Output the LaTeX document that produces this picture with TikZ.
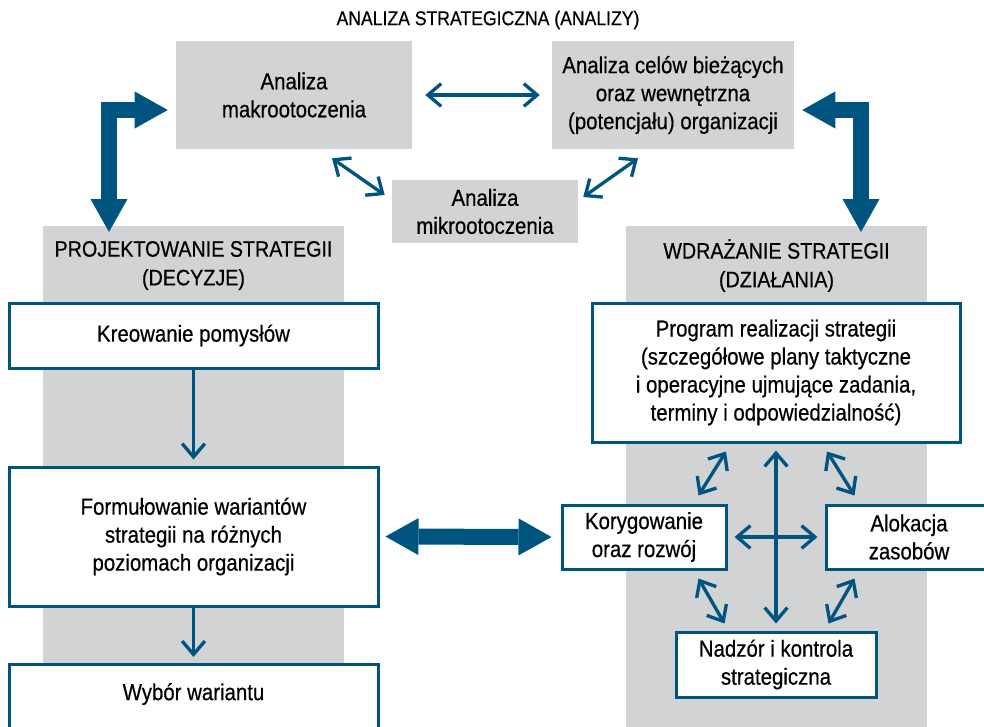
\documentclass[tikz,border=0pt]{standalone}
\usepackage{fontspec}
\setmainfont{Liberation Sans}[FakeStretch=0.88,FakeBold=0.5]
\usetikzlibrary{arrows.meta}

\definecolor{sblue}{RGB}{0,84,128}
\definecolor{sgray}{RGB}{209,211,212}
\newcommand\pxl{0.75pt}

\tikzset{
  bodytext/.style={font=\fontsize{17.4}{21}\selectfont, align=center, text=black},
  headtext/.style={font=\fontsize{16.8}{21.5}\selectfont, align=center, text=black},
  graybox/.style={fill=sgray, draw=none, inner sep=0pt, bodytext},
  graycol/.style={fill=sgray, draw=none, inner sep=0pt, anchor=north west},
  wbox/.style={fill=white, draw=sblue, line width=2.25pt, inner sep=0pt, bodytext},
  barb/.tip={Straight Barb[length=10pt,width=17pt,line width=2.5pt]},
  thinarrow/.style={draw=sblue, line width=2.5pt, barb-barb},
  downarrow/.style={draw=sblue, line width=2.5pt, -barb},
  bigtip/.tip={Triangle[length=24.75pt,width=27.75pt,line width=0pt]},
  bigarrow/.style={draw=sblue, line width=12pt, line join=miter, bigtip-bigtip},
}

\begin{document}
\begin{tikzpicture}[x=0.75pt, y=-0.75pt]
\useasboundingbox (0,0) rectangle (984,726);
\clip (0,0) rectangle (984,726);

% title
\node[font=\fontsize{15}{18}\selectfont] (title) at (488,20) {ANALIZA STRATEGICZNA (ANALIZY)};

% analysis boxes
\node[graybox, minimum width=236*\pxl, minimum height=108*\pxl] (makro) at (294,95)
  {Analiza\\makrootoczenia};
\node[graybox, minimum width=242*\pxl, minimum height=108*\pxl] (cel) at (673,95)
  {Analiza celów bieżących\\oraz wewnętrzna\\(potencjału) organizacji};
\node[graybox, minimum width=186*\pxl, minimum height=63*\pxl] (mikro) at (485,211.5)
  {Analiza\\mikrootoczenia};

% gray columns
\node[graycol, minimum width=301*\pxl, minimum height=520*\pxl] (projcol) at (43,226) {};
\node[graycol, minimum width=301*\pxl, minimum height=520*\pxl] (realcol) at (626,226) {};
\node[headtext] (projhead) at (193.5,265.5) {PROJEKTOWANIE STRATEGII\\(DECYZJE)};
\node[headtext] (realhead) at (776.5,265.5) {WDRAŻANIE STRATEGII\\(DZIAŁANIA)};

% design column
\node[wbox, minimum width=369*\pxl, minimum height=65*\pxl] (kreo) at (193.5,335.5)
  {Kreowanie pomysłów};
\node[wbox, minimum width=369*\pxl, minimum height=139*\pxl] (form) at (193.5,536.5)
  {Formułowanie wariantów\\strategii na różnych\\poziomach organizacji};
\node[wbox, minimum width=369*\pxl, minimum height=100*\pxl, anchor=north] (wybor) at (193.5,663) {};
\node[bodytext] (wybortxt) at (193.5,694) {Wybór wariantu};

% implementation column
\node[wbox, minimum width=368*\pxl, minimum height=139*\pxl] (prog) at (776,372.5)
  {Program realizacji strategii\\(szczegółowe plany taktyczne\\i operacyjne ujmujące zadania,\\terminy i odpowiedzialność)};
\node[wbox, minimum width=164*\pxl, minimum height=64*\pxl] (kor) at (644,537)
  {Korygowanie\\oraz rozwój};
\node[wbox, minimum width=166*\pxl, minimum height=64*\pxl] (alok) at (909,537)
  {Alokacja\\zasobów};
\node[wbox, minimum width=200*\pxl, minimum height=65*\pxl] (nad) at (776,664.5)
  {Nadzór i kontrola\\strategiczna};

% arrows between the analyses
\draw[thinarrow] ([shift={(13,0)}]makro.east) -- ([shift={(-12,0)}]cel.west);
\draw[thinarrow] ([shift={(38,9)}]makro.south) -- ([shift={(-7,-16.5)}]mikro.west);
\draw[thinarrow] ([shift={(5,-14.5)}]mikro.east) -- ([shift={(-35,9)}]cel.south);

% big L-shaped arrows
\coordinate (lTip) at ([shift={(-8,15)}]makro.west);
\coordinate (lEnd) at (109,232);
\draw[bigarrow] (lTip) -| (lEnd);
\coordinate (rTip) at ([shift={(8,15)}]cel.east);
\coordinate (rEnd) at (861,232);
\draw[bigarrow] (rTip) -| (rEnd);

% big two-way arrow between the columns
\draw[bigarrow] ([shift={(6,0)}]form.east) -- ([shift={(-9,0)}]kor.west);

% design flow
\draw[downarrow] (kreo.south) -- ([shift={(0,-6)}]form.north);
\draw[downarrow] (form.south) -- ([shift={(0,-6)}]wybor.north);

% implementation links
\draw[thinarrow] ([shift={(0,7)}]prog.south) -- ([shift={(0,-7)}]nad.north);
\draw[thinarrow] ([shift={(7,0)}]kor.east) -- ([shift={(-7,0)}]alok.west);
\draw[thinarrow] ([shift={(-50,8)}]prog.south) -- ([shift={(-29,-8)}]kor.north east);
\draw[thinarrow] ([shift={(51,8)}]prog.south) -- ([shift={(30,-8)}]alok.north west);
\draw[thinarrow] ([shift={(-29,8)}]kor.south east) -- ([shift={(50,-7)}]nad.north west);
\draw[thinarrow] ([shift={(30,8)}]alok.south west) -- ([shift={(-49,-7)}]nad.north east);
\end{tikzpicture}
\end{document}
